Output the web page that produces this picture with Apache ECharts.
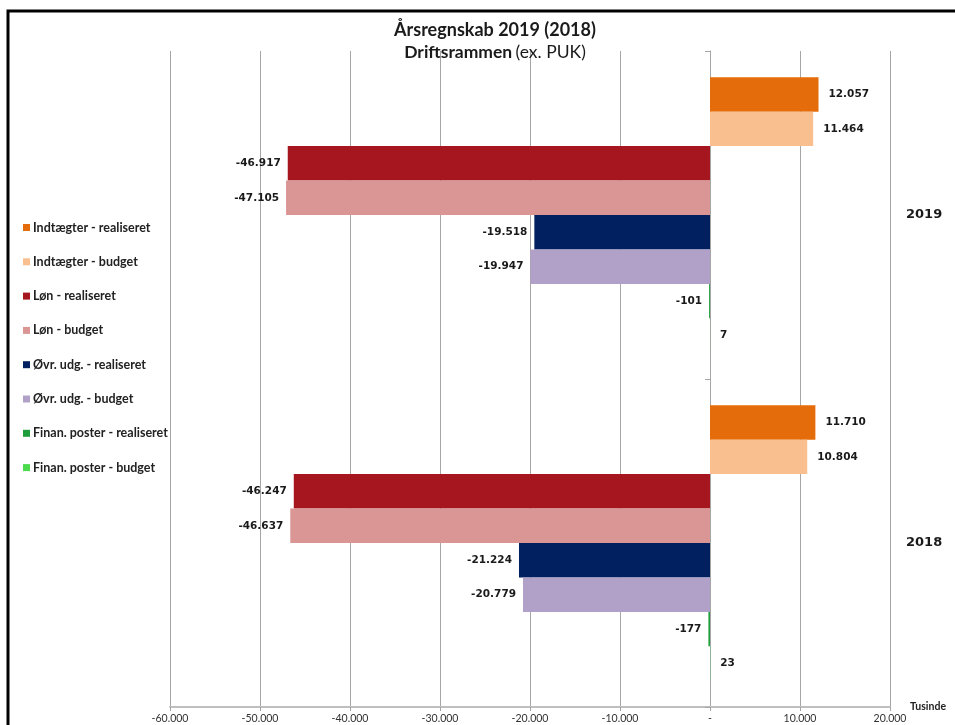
<!DOCTYPE html>
<html>
<head>
<meta charset="utf-8">
<script src="https://cdn.jsdelivr.net/npm/echarts@6/dist/echarts.min.js"></script>
<style>html,body{margin:0;padding:0;background:#fff}#c{width:955px;height:725px}</style>
</head>
<body>
<div id="c"></div>
<script>
const years = ['2019', '2018'];
const seriesNames = [
  'Indtægter - realiseret', 'Indtægter - budget',
  'Løn - realiseret', 'Løn - budget',
  'Øvr. udg. - realiseret', 'Øvr. udg. - budget',
  'Finan. poster - realiseret', 'Finan. poster - budget'
];
const indtaegterRealiseret = [12057, 11710];
const indtaegterBudget = [11464, 10804];
const loenRealiseret = [-46917, -46247];
const loenBudget = [-47105, -46637];
const oevrRealiseret = [-19518, -21224];
const oevrBudget = [-19947, -20779];
const finanRealiseret = [-101, -177];
const finanBudget = [7, 23];
const colors = ['#E46C0A', '#FABF8F', '#A5161F', '#D99694', '#002060', '#B1A0C7', '#1E9E3A', '#4CDB4C'];
const allValues = [indtaegterRealiseret, indtaegterBudget, loenRealiseret, loenBudget, oevrRealiseret, oevrBudget, finanRealiseret, finanBudget];

function fmt(v) {
  const s = Math.abs(v).toString().replace(/\B(?=(\d{3})+(?!\d))/g, '.');
  return (v < 0 ? '-' : '') + s;
}

const chart = echarts.init(document.getElementById('c'));
const series = allValues.map((vals, i) => ({
  name: seriesNames[i],
  type: 'bar',
  yAxisIndex: 0,
  barGap: 0,
  barCategoryGap: '16%',
  itemStyle: { color: colors[i] },
  label: {
    show: true,
    fontFamily: 'DejaVu Sans',
    fontWeight: 'bold',
    fontSize: 10.5,
    color: '#1a1a1a',
    formatter: p => fmt(p.value)
  },
  data: vals.map(v => ({
    value: v,
    label: { position: v < 0 ? 'left' : 'right', distance: v < 0 ? 7 : 10 }
  }))
}));

chart.setOption({
  animation: false,
  color: colors,
  title: {
    left: 490,
    top: 16,
    textAlign: 'center',
    text: 'Årsregnskab 2019 (2018)',
    textStyle: { fontFamily: 'Lato', fontWeight: 'bold', fontSize: 18, color: '#1a1a1a' },
    subtext: '{b|Driftsrammen} {n|(ex. PUK)}',
    itemGap: 4,
    subtextStyle: {
      rich: {
        b: { fontFamily: 'Lato', fontWeight: 'bold', fontSize: 17.5, color: '#1a1a1a' },
        n: { fontFamily: 'Lato', fontSize: 17.5, color: '#1a1a1a' }
      }
    }
  },
  legend: {
    orient: 'vertical',
    left: 18,
    top: 215.5,
    itemWidth: 7,
    itemHeight: 7,
    itemGap: 20.3,
    icon: 'rect',
    textStyle: { fontFamily: 'Lato', fontWeight: 'bold', fontSize: 12.5, color: '#222', lineHeight: 14, padding: [0, 0, 0, -2] },
    data: seriesNames
  },
  grid: { left: 170, right: 65, top: 51, bottom: 18, containLabel: false },
  xAxis: {
    type: 'value',
    min: -60000,
    max: 20000,
    interval: 10000,
    name: 'Tusinde',
    nameLocation: 'end',
    nameGap: 20,
    nameTextStyle: { fontFamily: 'Lato', fontWeight: 'bold', fontSize: 10.5, color: '#222', padding: [22, 0, 0, 0] },
    axisLine: { show: true, lineStyle: { color: '#BFBFBF', width: 2 } },
    axisTick: { show: true, length: 4, lineStyle: { color: '#A6A6A6' } },
    splitLine: { show: true, lineStyle: { color: '#A6A6A6', width: 1 } },
    axisLabel: {
      fontFamily: 'Lato', fontSize: 10.5, color: '#333', margin: 6,
      formatter: v => v === 0 ? '-' : fmt(v)
    }
  },
  yAxis: [
    {
      type: 'category',
      data: years,
      inverse: true,
      axisLine: { show: true, onZero: true, lineStyle: { color: '#A6A6A6' } },
      axisTick: { show: true, length: 5, lineStyle: { color: '#A6A6A6' } },
      axisLabel: { show: false }
    },
    {
      type: 'category',
      data: years,
      inverse: true,
      position: 'right',
      axisLine: { show: false, onZero: false },
      axisTick: { show: false },
      splitLine: { show: false },
      axisLabel: { show: true, margin: 16, fontFamily: 'DejaVu Sans', fontWeight: 'bold', fontSize: 13, color: '#1a1a1a' }
    }
  ],
  graphic: [{
    type: 'rect',
    shape: { x: 8, y: 11, width: 1100, height: 1100 },
    style: { fill: 'none', stroke: '#000', lineWidth: 3 },
    silent: true,
    z: 100
  }],
  series: series
});
</script>
</body>
</html>
